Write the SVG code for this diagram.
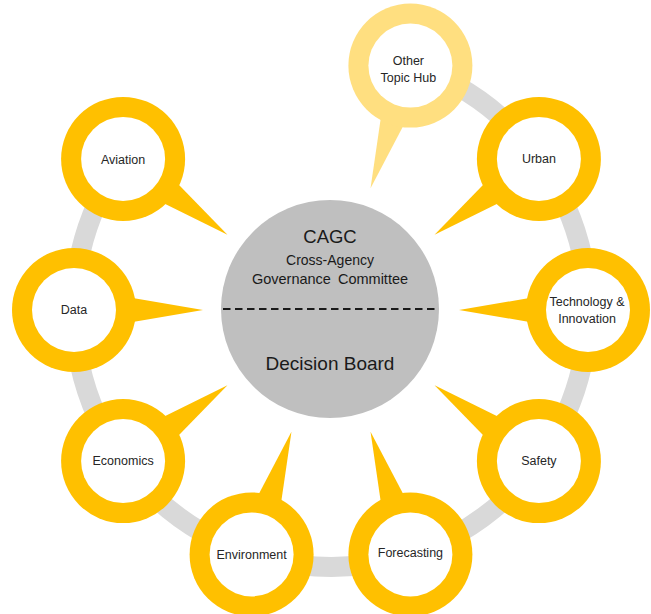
<svg xmlns="http://www.w3.org/2000/svg" width="651" height="614" viewBox="0 0 651 614">
<defs>
<style>
.ring{fill:#FFC000}
.ring.light{fill:#FFDF80}
.hole{fill:#FFFFFF}
.lbl{font-family:"Liberation Sans",Arial,sans-serif;font-size:12.5px;fill:#262626;text-anchor:middle}
.ctr{font-family:"Liberation Sans",Arial,sans-serif;fill:#1A1A1A;text-anchor:middle}
</style>
<path id="tail" d="M50,-13.5 L129,0 L50,13.5 Z"/>
</defs>
<rect width="651" height="614" fill="#FFFFFF"/>
<g id="connectors">
<path d="M410.4,65.6 A257,257 0 1 1 123.1,158.9" fill="none" stroke="#D9D9D9" stroke-width="20"/>
</g>
<g id="center">
<circle cx="330" cy="309" r="109" fill="#BFBFBF"/>
<line x1="223" y1="309" x2="438" y2="309" stroke="#1A1A1A" stroke-width="2" stroke-dasharray="7.5,4.5"/>
<text class="ctr" x="330" y="243" font-size="18.5">CAGC</text>
<text class="ctr" x="330" y="265" font-size="14">Cross-Agency</text>
<text class="ctr" x="330" y="284" font-size="14.5" word-spacing="3">Governance Committee</text>
<text class="ctr" x="330" y="370" font-size="19">Decision Board</text>
</g>
<g id="node-other" transform="translate(410.4,65.6)">
<use href="#tail" class="ring light" transform="rotate(108)"/>
<circle class="ring light" r="62"/><circle class="hole" r="42"/>
<text class="lbl" x="-2" y="-1">Other</text><text class="lbl" x="-2" y="16">Topic Hub</text>
</g>
<g id="node-urban" transform="translate(538.9,158.9)">
<use href="#tail" class="ring" transform="rotate(144)"/>
<circle class="ring" r="62"/><circle class="hole" r="42"/>
<text class="lbl" y="4">Urban</text>
</g>
<g id="node-tech" transform="translate(588,310)">
<use href="#tail" class="ring" transform="rotate(180)"/>
<circle class="ring" r="62"/><circle class="hole" r="42"/>
<text class="lbl" x="-1" y="-4">Technology &amp;</text><text class="lbl" x="-1" y="13">Innovation</text>
</g>
<g id="node-safety" transform="translate(538.9,461.1)">
<use href="#tail" class="ring" transform="rotate(216)"/>
<circle class="ring" r="62"/><circle class="hole" r="42"/>
<text class="lbl" y="4">Safety</text>
</g>
<g id="node-forecasting" transform="translate(410.4,554.4)">
<use href="#tail" class="ring" transform="rotate(252)"/>
<circle class="ring" r="62"/><circle class="hole" r="42"/>
<text class="lbl" y="3">Forecasting</text>
</g>
<g id="node-environment" transform="translate(251.6,554.4)">
<use href="#tail" class="ring" transform="rotate(288)"/>
<circle class="ring" r="62"/><circle class="hole" r="42"/>
<text class="lbl" y="5">Environment</text>
</g>
<g id="node-economics" transform="translate(123.1,461.1)">
<use href="#tail" class="ring" transform="rotate(324)"/>
<circle class="ring" r="62"/><circle class="hole" r="42"/>
<text class="lbl" y="4">Economics</text>
</g>
<g id="node-data" transform="translate(74,310)">
<use href="#tail" class="ring" transform="rotate(0)"/>
<circle class="ring" r="62"/><circle class="hole" r="42"/>
<text class="lbl" y="4">Data</text>
</g>
<g id="node-aviation" transform="translate(123.1,158.9)">
<use href="#tail" class="ring" transform="rotate(36)"/>
<circle class="ring" r="62"/><circle class="hole" r="42"/>
<text class="lbl" y="5">Aviation</text>
</g>
</svg>
